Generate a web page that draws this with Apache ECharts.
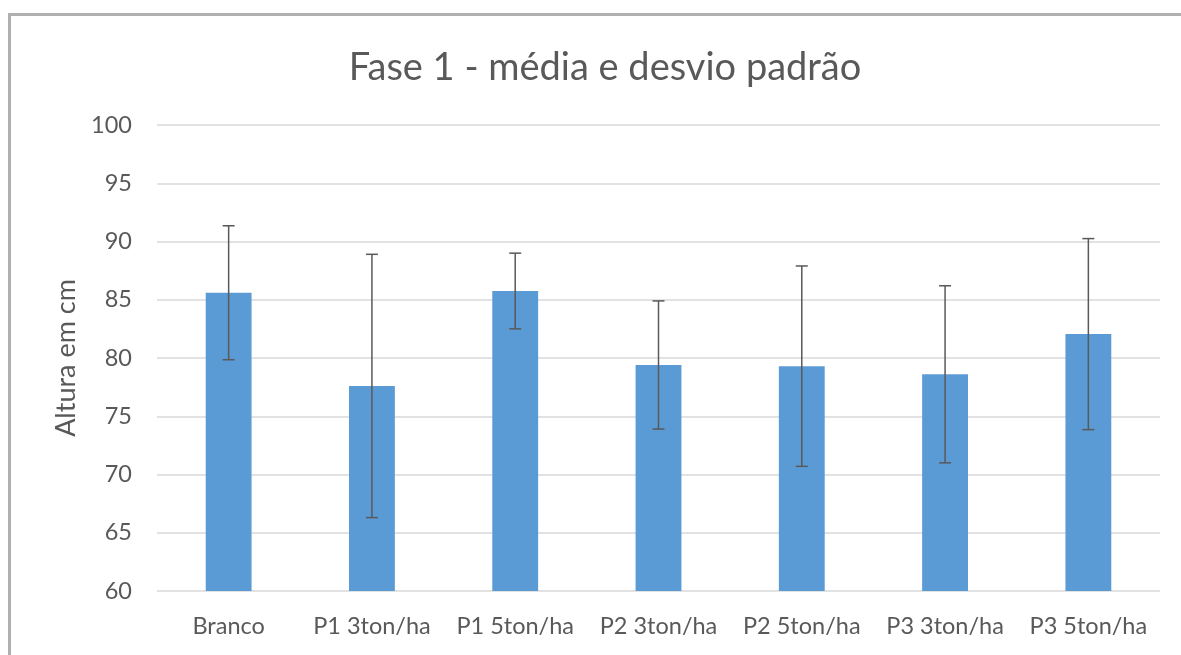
<!DOCTYPE html>
<html>
<head>
<meta charset="utf-8">
<script src="https://cdn.jsdelivr.net/npm/echarts@6/dist/echarts.min.js"></script>
<style>html,body{margin:0;padding:0;background:#fff;}#c{width:1181px;height:655px;}</style>
</head>
<body>
<div id="c"></div>
<script>
const categories = ['Branco', 'P1 3ton/ha', 'P1 5ton/ha', 'P2 3ton/ha', 'P2 5ton/ha', 'P3 3ton/ha', 'P3 5ton/ha'];
const means = [85.6, 77.6, 85.75, 79.4, 79.3, 78.6, 82.05];
const stdDevs = [5.75, 11.3, 3.25, 5.5, 8.6, 7.6, 8.2];
const yTicks = [60, 65, 70, 75, 80, 85, 90, 95, 100];

const FONT = 'Lato';
const chart = echarts.init(document.getElementById('c'));
const errData = categories.map((c, i) => [i, means[i] - stdDevs[i], means[i] + stdDevs[i]]);

chart.setOption({
  animation: false,
  backgroundColor: '#fff',
  title: {
    text: 'Fase 1 - média e desvio padrão',
    left: 600, top: 44, textAlign: 'center',
    textStyle: { fontFamily: FONT, fontSize: 38, fontWeight: 'normal', color: '#595959' }
  },
  graphic: [{
    type: 'rect', silent: true,
    shape: { x: 9.5, y: 14.5, width: 1400, height: 1000 },
    style: { fill: 'none', stroke: '#b0b0b0', lineWidth: 3 }
  }],
  grid: { left: 157, right: 21, top: 125, bottom: 64 },
  xAxis: {
    type: 'category', data: categories,
    axisLine: { show: false }, axisTick: { show: false },
    axisLabel: { interval: 0, hideOverlap: false, fontFamily: FONT, fontSize: 23.5, color: '#595959', margin: 23 }
  },
  yAxis: {
    type: 'value', min: 60, max: 100, interval: 5,
    name: 'Altura em cm', nameLocation: 'middle', nameGap: 77, nameRotate: 90,
    nameTextStyle: { fontFamily: FONT, fontSize: 27, color: '#595959' },
    axisLine: { show: false }, axisTick: { show: false },
    axisLabel: { fontFamily: FONT, fontSize: 23.5, color: '#595959', margin: 25,
      formatter: v => yTicks.includes(v) ? String(v) : '' },
    splitLine: { lineStyle: { color: '#d9d9d9', width: 1.5 } }
  },
  series: [{
    type: 'bar', data: means, barWidth: '32%',
    itemStyle: { color: '#5b9bd5' }
  }, {
    type: 'custom', data: errData, z: 10,
    renderItem: function (params, api) {
      const x = api.value(0);
      const lo = api.coord([x, api.value(1)]);
      const hi = api.coord([x, api.value(2)]);
      const hw = 6;
      const st = { stroke: '#595959', lineWidth: 1.5 };
      return { type: 'group', children: [
        { type: 'line', shape: { x1: lo[0], y1: lo[1], x2: hi[0], y2: hi[1] }, style: st },
        { type: 'line', shape: { x1: lo[0] - hw, y1: lo[1], x2: lo[0] + hw, y2: lo[1] }, style: st },
        { type: 'line', shape: { x1: hi[0] - hw, y1: hi[1], x2: hi[0] + hw, y2: hi[1] }, style: st }
      ]};
    }
  }]
});
</script>
</body>
</html>
